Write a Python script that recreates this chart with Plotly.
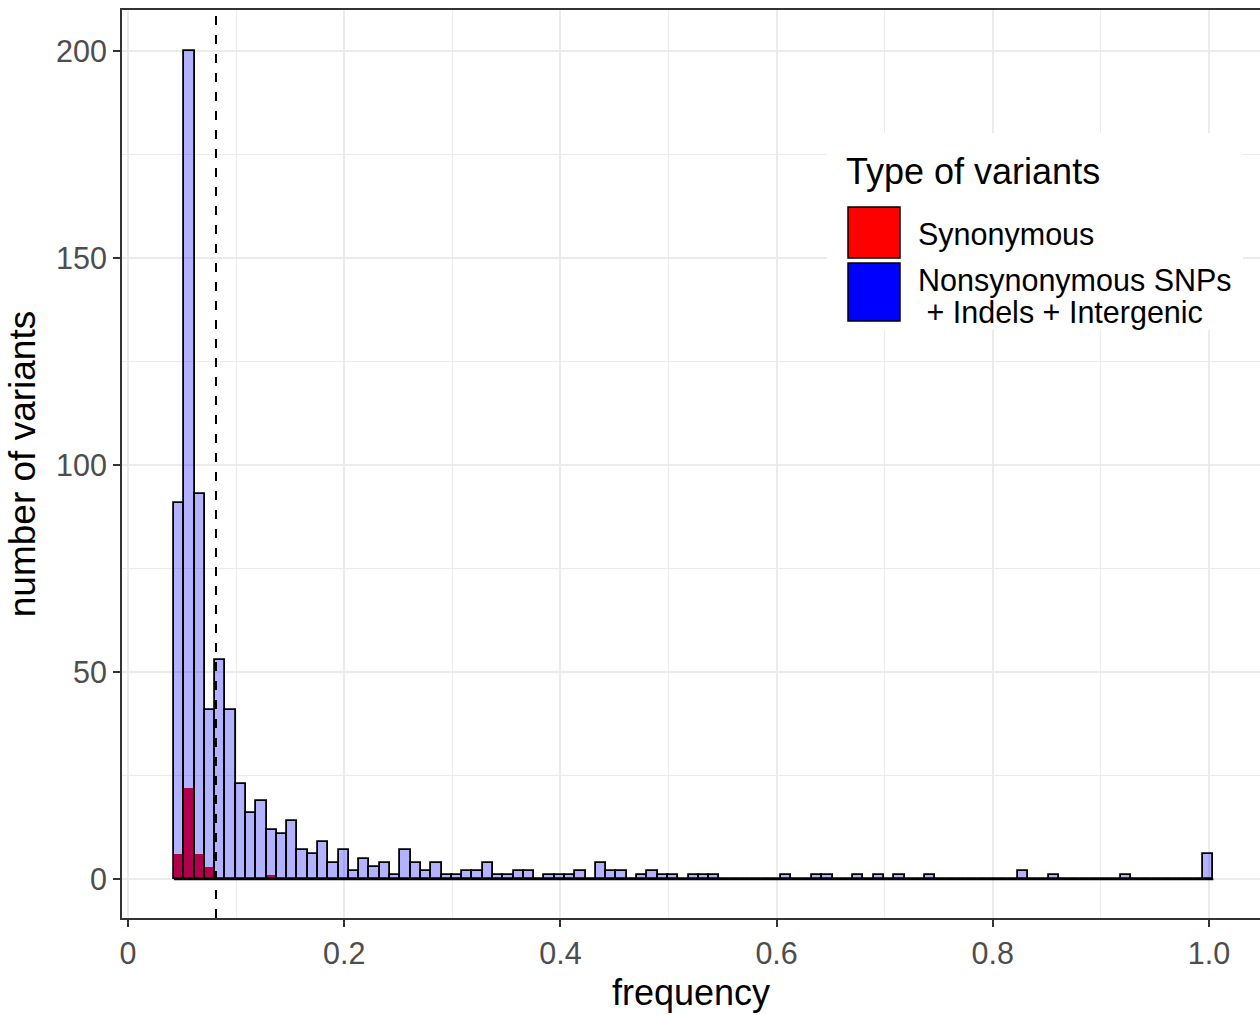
import plotly.graph_objects as go

# ---------------- data ----------------
bin_start = 0.0425          # left edge of the first histogram bin (frequency)
bin_width = 0.00952         # histogram bin width (frequency)

# Nonsynonymous SNPs + Indels + Intergenic : counts per bin (101 bins)
counts_nonsyn = [91, 200, 93, 41, 53, 41, 23, 16, 19, 12,
                 11, 14, 7, 6, 9, 4, 7, 2, 5, 3,
                 4, 1, 7, 4, 2, 4, 1, 1, 2, 2,
                 4, 1, 1, 2, 2, 0, 1, 1, 1, 2,
                 0, 4, 2, 2, 0, 1, 2, 1, 1, 0,
                 1, 1, 1, 0, 0, 0, 0, 0, 0, 1,
                 0, 0, 1, 1, 0, 0, 1, 0, 1, 0,
                 1, 0, 0, 1, 0, 0, 0, 0, 0, 0,
                 0, 0, 2, 0, 0, 1, 0, 0, 0, 0,
                 0, 0, 1, 0, 0, 0, 0, 0, 0, 0,
                 6]
# Synonymous : counts per bin (first bins; remaining bins are zero)
counts_syn = [6, 22, 6, 3, 0, 0, 0, 0, 0, 1]

threshold = 0.0814          # dashed vertical line

x_tickvals = [0, 0.2, 0.4, 0.6, 0.8, 1.0]
x_ticktext = ["0", "0.2", "0.4", "0.6", "0.8", "1.0"]
y_tickvals = [0, 50, 100, 150, 200]
y_ticktext = ["0", "50", "100", "150", "200"]

legend_title = "Type of variants"
legend_labels = ["Synonymous", "Nonsynonymous SNPs", "\u00a0+ Indels + Intergenic"]

# ---------------- derived bins ----------------
n_bins = len(counts_nonsyn)
centers = [bin_start + (i + 0.5) * bin_width for i in range(n_bins)]
edge_lo = bin_start
edge_hi = bin_start + n_bins * bin_width

# ---------------- figure ----------------
W, H = 1260, 1015
ML, MR, MT, MB = 122, 0, 10, 97
PW, PH = W - ML - MR, H - MT - MB
FONT = "Liberation Sans, Arial, Helvetica, sans-serif"


def px(x):
    return (x - ML) / PW


def py(y):
    return (H - MB - y) / PH


fig = go.Figure()

fig.add_trace(go.Bar(
    x=centers[:len(counts_syn)], y=counts_syn, width=bin_width,
    marker=dict(color="#FF0000", line=dict(width=0)),
    name="Synonymous", showlegend=False, hoverinfo="skip"))

fig.add_trace(go.Bar(
    x=centers, y=counts_nonsyn, width=bin_width,
    marker=dict(color="rgba(0,0,255,0.3)", line=dict(color="black", width=1.8)),
    name="Nonsynonymous SNPs + Indels + Intergenic", showlegend=False, hoverinfo="skip"))

# baseline of the histogram (empty bins)
fig.add_trace(go.Scatter(
    x=[edge_lo, edge_hi], y=[0, 0], mode="lines",
    line=dict(color="black", width=2), showlegend=False, hoverinfo="skip"))

fig.add_vline(x=threshold, line=dict(color="black", width=2, dash="9px,10px"))

grid_major = "#EBEBEB"
fig.update_layout(
    width=W, height=H,
    margin=dict(l=ML, r=MR, t=MT, b=MB, pad=0),
    barmode="overlay", bargap=0,
    plot_bgcolor="white", paper_bgcolor="white",
    font=dict(family=FONT, color="black"),
    showlegend=False,
    xaxis=dict(
        range=[-0.00555, 1.04718], tickvals=x_tickvals, ticktext=x_ticktext,
        showgrid=True, gridcolor=grid_major, gridwidth=2,
        minor=dict(tickvals=[0.1, 0.3, 0.5, 0.7, 0.9], showgrid=True,
                   gridcolor=grid_major, gridwidth=1.2),
        zeroline=False, showline=True, linecolor="#333333", linewidth=2, mirror=True,
        ticks="outside", ticklen=7, tickwidth=2, tickcolor="#333333",
        tickfont=dict(size=30.5, color="#4D4D4D", family=FONT),
        title=dict(text="frequency", font=dict(size=36, color="black", family=FONT), standoff=11),
    ),
    yaxis=dict(
        range=[-9.35, 210], tickvals=y_tickvals, ticktext=y_ticktext,
        showgrid=True, gridcolor=grid_major, gridwidth=2,
        minor=dict(tickvals=[25, 75, 125, 175], showgrid=True,
                   gridcolor=grid_major, gridwidth=1.2),
        zeroline=False, showline=True, linecolor="#333333", linewidth=2, mirror=False,
        ticks="outside", ticklen=7, tickwidth=2, tickcolor="#333333",
        tickfont=dict(size=30.5, color="#4D4D4D", family=FONT),
        title=dict(text="number of variants", font=dict(size=37, color="black", family=FONT), standoff=9),
    ),
)

# ---------------- legend (drawn inside the panel like ggplot) ----------------
fig.add_shape(type="rect", xref="paper", yref="paper",
              x0=px(827), x1=px(1243), y0=py(330), y1=py(133),
              fillcolor="white", line=dict(width=0), layer="above")
fig.add_shape(type="rect", xref="paper", yref="paper",
              x0=px(848), x1=px(900), y0=py(258), y1=py(207),
              fillcolor="#FF0000", line=dict(color="black", width=1.5), layer="above")
fig.add_shape(type="rect", xref="paper", yref="paper",
              x0=px(848), x1=px(900), y0=py(321), y1=py(263),
              fillcolor="#0000FF", line=dict(color="black", width=1.5), layer="above")

fig.add_annotation(xref="paper", yref="paper", x=px(844), y=py(171), text=legend_title,
                   showarrow=False, xanchor="left", yanchor="middle",
                   font=dict(size=36, color="black", family=FONT))
for lab, yy in zip(legend_labels, [235, 280, 312]):
    fig.add_annotation(xref="paper", yref="paper", x=px(916), y=py(yy), text=lab,
                       showarrow=False, xanchor="left", yanchor="middle",
                       font=dict(size=30.5, color="black", family=FONT))

fig.write_html("out.html", config={"displayModeBar": False},
               post_script="document.body.style.margin='0';")
